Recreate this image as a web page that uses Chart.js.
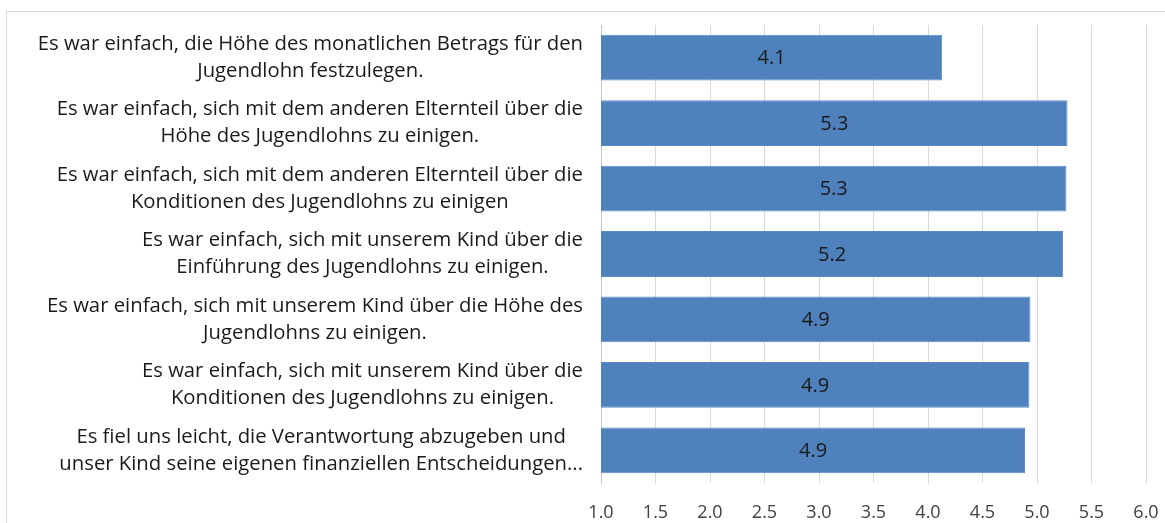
<!DOCTYPE html>
<html>
<head>
<meta charset="utf-8">
<script src="https://cdn.jsdelivr.net/npm/chart.js@4/dist/chart.umd.min.js"></script>
<style>
  body { margin: 0; background: #fff; overflow: hidden; }
  #rahmen { position: absolute; left: 6px; top: 11px; width: 1300px; height: 700px; border: 1px solid #d9d9d9; }
  #wrap { position: absolute; left: 0; top: 0; width: 1165px; height: 523px; }
</style>
</head>
<body>
<div id="rahmen"></div>
<div id="wrap"><canvas id="grafik" width="1165" height="523"></canvas></div>
<script>
// Aussagen (Kategorien), jeweils zweizeilig
const aussagen = [
  ['Es war einfach, die Höhe des monatlichen Betrags für den', 'Jugendlohn festzulegen.'],
  ['Es war einfach, sich mit dem anderen Elternteil über die', 'Höhe des Jugendlohns zu einigen.'],
  ['Es war einfach, sich mit dem anderen Elternteil über die', 'Konditionen des Jugendlohns zu einigen'],
  ['Es war einfach, sich mit unserem Kind über die', 'Einführung des Jugendlohns zu einigen.'],
  ['Es war einfach, sich mit unserem Kind über die Höhe des', 'Jugendlohns zu einigen.'],
  ['Es war einfach, sich mit unserem Kind über die', 'Konditionen des Jugendlohns zu einigen.'],
  ['Es fiel uns leicht, die Verantwortung abzugeben und', 'unser Kind seine eigenen finanziellen Entscheidungen...']
];
// Mittelwerte
const mittelwerte = [4.13, 5.28, 5.27, 5.24, 4.94, 4.93, 4.89];
// Achse
const achseMin = 1.0;
const achseMax = 6.0;
const achseSchritt = 0.5;

const schrift = '"Open Sans", "Noto Sans", sans-serif';

// Beschriftungen links: Block rechtsbündig, Zeilen im Block zentriert
const beschriftungPlugin = {
  id: 'beschriftung',
  afterDraw(chart) {
    const ctx = chart.ctx;
    const y = chart.scales.y;
    const rechts = chart.chartArea.left - 18;
    ctx.save();
    ctx.font = '20.3px ' + schrift;
    ctx.fillStyle = '#1a1a1a';
    ctx.textAlign = 'center';
    ctx.textBaseline = 'middle';
    aussagen.forEach(function(zeilen, i) {
      const mitte = y.getPixelForTick(i);
      let breite = 0;
      zeilen.forEach(function(z) { breite = Math.max(breite, ctx.measureText(z).width); });
      const x = rechts - breite / 2;
      const lh = 27;
      const start = mitte - (zeilen.length - 1) * lh / 2;
      zeilen.forEach(function(z, k) { ctx.fillText(z, x, start + k * lh); });
    });
    ctx.restore();
  }
};

// Werte in die Balken schreiben
const wertePlugin = {
  id: 'werte',
  afterDatasetsDraw(chart) {
    const ctx = chart.ctx;
    const meta = chart.getDatasetMeta(0);
    const links = chart.scales.x.getPixelForValue(achseMin);
    ctx.save();
    ctx.font = '20px ' + schrift;
    ctx.fillStyle = '#1a1a1a';
    ctx.textAlign = 'center';
    ctx.textBaseline = 'middle';
    meta.data.forEach(function(bar, i) {
      const p = bar.getProps(['x', 'y'], true);
      ctx.fillText(mittelwerte[i].toFixed(1), (p.x + links) / 2, p.y + 1);
    });
    ctx.restore();
  }
};

let ctx = document.getElementById('grafik').getContext('2d');
new Chart(ctx, {
  type: 'bar',
  data: {
    labels: aussagen.map(function(a) { return a.join(' '); }),
    datasets: [{
      data: mittelwerte,
      backgroundColor: '#4f81bd',
      borderColor: '#5a8ac6',
      borderWidth: 1,
      barPercentage: 0.7,
      categoryPercentage: 1.0
    }]
  },
  options: {
    indexAxis: 'y',
    responsive: false,
    animation: false,
    layout: { padding: { top: 25, right: 19, left: 0, bottom: 0 } },
    plugins: {
      legend: { display: false },
      tooltip: { enabled: false }
    },
    scales: {
      x: {
        min: achseMin,
        max: achseMax,
        ticks: {
          stepSize: achseSchritt,
          padding: 19,
          color: '#404040',
          font: { family: schrift, size: 18 },
          callback: function(v) { return Number(v).toFixed(1); }
        },
        grid: { color: '#d9d9d9', drawTicks: false },
        border: { display: false },
        afterFit: function(s) { s.height = 40; s.paddingRight = 0; s.paddingLeft = 0; }
      },
      y: {
        ticks: { display: false },
        grid: { display: false, drawTicks: false },
        border: { display: true, color: '#c8c8c8' },
        afterFit: function(s) { s.width = 601; }
      }
    }
  },
  plugins: [beschriftungPlugin, wertePlugin]
});
</script>
</body>
</html>
